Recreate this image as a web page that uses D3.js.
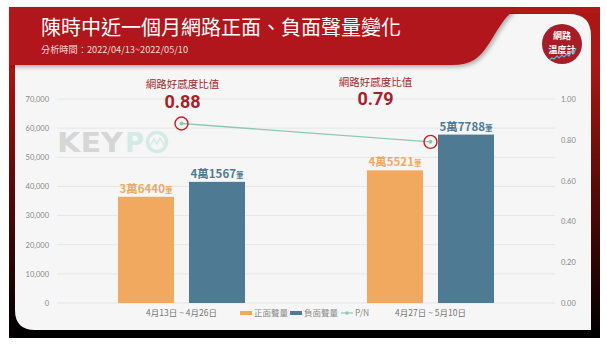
<!DOCTYPE html>
<html><head><meta charset="utf-8">
<script src="https://cdn.jsdelivr.net/npm/d3@7"></script>
<style>
html,body{margin:0;padding:0;background:#fff;}
svg{display:block;}
</style></head>
<body>
<svg id="c" width="607" height="345"></svg>
<script>
const title = "陳時中近一個月網路正面、負面聲量變化";
const subtitle = "分析時間：2022/04/13~2022/05/10";
const categories = ["4月13日 ~ 4月26日", "4月27日 ~ 5月10日"];
const seriesNames = ["正面聲量", "負面聲量", "P/N"];
const positive = [36440, 45521];
const negative = [41567, 57788];
const ratio = [0.88, 0.79];
const ratioLabel = "網路好感度比值";
const leftTicks = [0, 10000, 20000, 30000, 40000, 50000, 60000, 70000];
const rightTicks = [0, 0.2, 0.4, 0.6, 0.8, 1.0];

const svg = d3.select("#c");
const CJK = "'Noto Sans CJK TC','Noto Sans',sans-serif";
const NUM = "Lato,'Noto Sans',sans-serif";
const defs = svg.append("defs");
const fg = defs.append("linearGradient").attr("id","frameG").attr("gradientUnits","userSpaceOnUse")
  .attr("x1",0).attr("y1",60).attr("x2",0).attr("y2",335);
fg.append("stop").attr("offset","0%").attr("stop-color","#ad1713");
fg.append("stop").attr("offset","45%").attr("stop-color","#5a0b08");
fg.append("stop").attr("offset","100%").attr("stop-color","#000");
const sh = defs.append("filter").attr("id","sh").attr("x","-10%").attr("y","-20%").attr("width","130%").attr("height","160%");
sh.append("feDropShadow").attr("dx",2).attr("dy",2).attr("stdDeviation",2).attr("flood-color","#000").attr("flood-opacity",0.3);

// frame
svg.append("rect").attr("x",9).attr("y",7).attr("width",591).attr("height",331).attr("fill","url(#frameG)");
// card
svg.append("path").attr("d","M15,14 H569 Q591,14 591,36 V330 H35 Q15,330 15,310 Z").attr("fill","#f6f6f6");
// header
svg.append("path").attr("d","M9,7 H512 V12 C497,24 490,50 474,60 Q466,65 452,65 H9 Z")
  .attr("fill","#b0191a").attr("filter","url(#sh)");
svg.append("rect").attr("x",9).attr("y",7).attr("width",591).attr("height",6).attr("fill","#b0191a");

svg.append("text").attr("x",41).attr("y",35).attr("fill","#fff").attr("font-family",CJK)
  .attr("font-size",20).text(title);
svg.append("text").attr("x",41).attr("y",53).attr("fill","#f3d6d6").attr("font-family",CJK)
  .attr("font-size",9.2).text(subtitle);

// logo
const lg = svg.append("g").attr("transform","translate(562,44)");
lg.append("circle").attr("r",20).attr("fill","#a51d26");
lg.append("text").attr("y",-5).attr("text-anchor","middle").attr("fill","#fff").attr("font-family",CJK)
  .attr("font-size",9).attr("font-weight",700).text("網路");
lg.append("text").attr("y",9).attr("text-anchor","middle").attr("fill","#fff").attr("font-family",CJK)
  .attr("font-size",9).attr("font-weight",700).text("溫度計");
lg.append("path").attr("d","M-13,16 L-10,14 L-8,15 L-5,12 L-3,14 L0,11 L2,13 L5,10 L7,12 L10,7 L12,9 L14,4")
  .attr("fill","none").attr("stroke","#5ab7d8").attr("stroke-width",1.2);

// scales
const x = d3.scaleBand().domain(categories).range([57,555]);
const xi = d3.scaleBand().domain(["pos","neg"]).range([0, x.bandwidth()]).paddingInner(0.211).paddingOuter(0.859);
const y = d3.scaleLinear().domain([0,70000]).range([303,99]);
const yr = d3.scaleLinear().domain([0,1]).range([303,99]);

// gridlines
svg.append("g").selectAll("line").data(leftTicks).join("line")
  .attr("x1",57).attr("x2",555).attr("y1",d=>y(d)).attr("y2",d=>y(d))
  .attr("stroke","#e6e6e6").attr("stroke-width",1);

// axes
const ax = svg.append("g").attr("transform","translate(49,0)")
  .call(d3.axisLeft(y).tickValues(leftTicks).tickSize(0).tickPadding(0).tickFormat(d3.format(",")));
ax.select(".domain").remove();
ax.selectAll("text").attr("font-family",NUM).attr("font-size",7.5).attr("fill","#888");
const ar = svg.append("g").attr("transform","translate(561,0)")
  .call(d3.axisRight(yr).tickValues(rightTicks).tickSize(0).tickPadding(0).tickFormat(d3.format(".2f")));
ar.select(".domain").remove();
ar.selectAll("text").attr("font-family",NUM).attr("font-size",7.5).attr("fill","#888");
const axb = svg.append("g").attr("transform","translate(0,313)")
  .call(d3.axisBottom(x).tickSize(0).tickPadding(0));
axb.select(".domain").remove();
axb.selectAll("text").attr("font-family",CJK).attr("font-size",8.5).attr("fill","#777").attr("dy","0.32em");

// watermark
const wm = svg.append("g").attr("font-family","'DejaVu Sans',sans-serif").attr("font-weight",700).attr("font-size",27);
wm.append("text").attr("x",57).attr("y",152).attr("fill","#d6d6d6").attr("textLength",66).attr("lengthAdjust","spacingAndGlyphs").text("KEY");
wm.append("text").attr("x",125).attr("y",152).attr("fill","#d4ebe5").attr("textLength",19).attr("lengthAdjust","spacingAndGlyphs").text("P");
wm.append("circle").attr("cx",157).attr("cy",142).attr("r",9.5).attr("fill","none").attr("stroke","#d4ebe5").attr("stroke-width",3.5);
wm.append("path").attr("d","M150,146 L154,139 L157,144 L160,138 L164,145").attr("fill","none").attr("stroke","#d4ebe5").attr("stroke-width",1.5);

// bars
const posColor = "#f0a95f", negColor = "#4e7b93";
const data = categories.map((c,i)=>({c, pos:positive[i], neg:negative[i], r:ratio[i]}));
const fmt = v => [Math.floor(v/10000)+"萬"+(v%10000), "筆"];
["pos","neg"].forEach(k=>{
  const col = k==="pos"?posColor:negColor;
  svg.append("g").selectAll("rect").data(data).join("rect")
    .attr("x",d=>x(d.c)+xi(k)).attr("width",xi.bandwidth())
    .attr("y",d=>y(d[k])).attr("height",d=>y(0)-y(d[k])).attr("fill",col);
  const t = svg.append("g").selectAll("text").data(data).join("text")
    .attr("x",d=>x(d.c)+xi(k)+xi.bandwidth()/2).attr("y",d=>y(d[k])-4)
    .attr("text-anchor","middle").attr("fill",col).attr("font-family",CJK).attr("font-weight",700);
  t.append("tspan").attr("font-size",11.5).text(d=>fmt(d[k])[0]);
  t.append("tspan").attr("font-size",7.5).text(d=>fmt(d[k])[1]);
});

// line
const lineColor = "#8ccab6";
const px = d => x(d.c)+x.bandwidth()/2;
svg.append("path").datum(data).attr("d",d3.line().x(px).y(d=>yr(d.r)))
  .attr("fill","none").attr("stroke",lineColor).attr("stroke-width",1.3);
svg.append("g").selectAll("circle").data(data).join("circle")
  .attr("cx",px).attr("cy",d=>yr(d.r)).attr("r",2).attr("fill",lineColor);
svg.append("g").selectAll("circle").data(data).join("circle")
  .attr("cx",px).attr("cy",d=>yr(d.r)).attr("r",6.5).attr("fill","none").attr("stroke","#cc1f24").attr("stroke-width",1.4);

// annotations
const annDx = [1, -55];
const annDy = [0, -21];
const ann = svg.append("g").selectAll("g").data(data).join("g")
  .attr("transform",(d,i)=>`translate(${px(d)+annDx[i]},${yr(d.r)+annDy[i]})`);
ann.append("text").attr("y",-35).attr("text-anchor","middle").attr("fill","#9e2a2c")
  .attr("font-family",CJK).attr("font-size",10.5).text(ratioLabel);
ann.append("text").attr("y",-15.5).attr("text-anchor","middle").attr("fill","#a8202a")
  .attr("font-family","Roboto,'Liberation Sans',sans-serif").attr("font-weight",700).attr("font-size",18)
  .text(d=>d.r.toFixed(2));

// legend
const lgd = svg.append("g").attr("font-family",CJK).attr("font-size",8.5).attr("fill","#8a8a8a");
const items = [{x:240,c:posColor,t:seriesNames[0]},{x:290,c:negColor,t:seriesNames[1]},{x:341,c:lineColor,t:seriesNames[2],line:true}];
items.forEach(it=>{
  if(it.line){
    lgd.append("line").attr("x1",it.x).attr("x2",it.x+12).attr("y1",313).attr("y2",313).attr("stroke",it.c).attr("stroke-width",1.2);
    lgd.append("circle").attr("cx",it.x+6).attr("cy",313).attr("r",1.8).attr("fill",it.c);
  } else {
    lgd.append("rect").attr("x",it.x).attr("y",311).attr("width",12).attr("height",4).attr("fill",it.c);
  }
  lgd.append("text").attr("x",it.x+14).attr("y",313).attr("dy","0.35em").text(it.t);
});
</script>
</body></html>
